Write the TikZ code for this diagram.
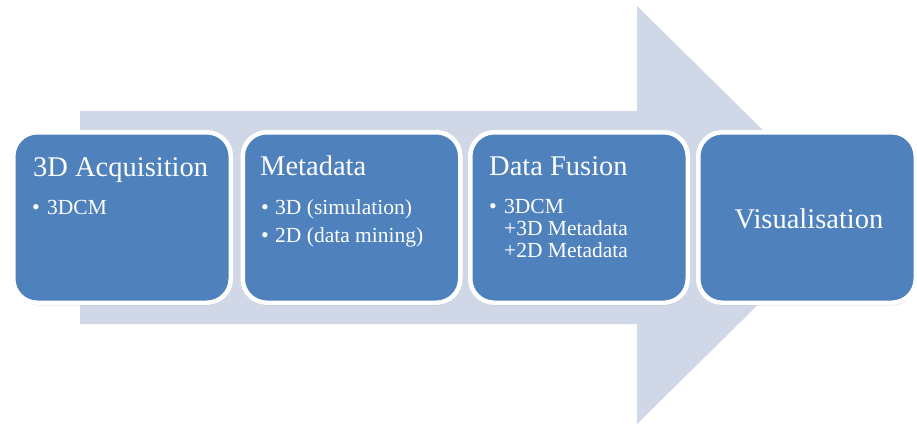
\documentclass[tikz,border=0pt]{standalone}
\usepackage{fontspec}
\setmainfont{Liberation Serif}
\usetikzlibrary{shadows}
\definecolor{boxblue}{HTML}{4F81BD}
\definecolor{arrowfill}{HTML}{D0D8E8}
\tikzset{
  stagebox/.style={draw=white, line width=4.5pt, fill=boxblue, rounded corners=24pt,
    minimum width=217.5pt, minimum height=170.5pt, inner sep=0pt,
    drop shadow={shadow xshift=0.5pt, shadow yshift=-2.5pt, opacity=0.35, fill=black!60}},
  titletext/.style={text=white, anchor=base west, inner sep=0pt, font=\fontsize{28.5}{32}\selectfont},
  itemtext/.style={text=white, anchor=base west, inner sep=0pt, font=\fontsize{21.5}{24}\selectfont},
  bullettext/.style={text=white, anchor=base west, inner sep=0pt, font=\fontsize{22}{24}\selectfont},
}
\begin{document}
\begin{tikzpicture}[x=1pt,y=-1pt]
\useasboundingbox (0,0) rectangle (917,429);
% big background arrow
\fill[arrowfill] (80,111) -- (637,111) -- (637,6) -- (849,215) -- (637,424) -- (637,324) -- (80,324) -- cycle;
% boxes
\node[stagebox] (b1) at (122,217.5) {};
\node[stagebox] (b2) at (351.5,217.5) {};
\node[stagebox] (b3) at (579,217.5) {};
\node[stagebox] (b4) at (807,217.5) {};
% box 1
\node[titletext] (t1) at (33,176) {3D Acquisition};
\node[bullettext] (p1a) at (32,214) {•};
\node[itemtext] (i1a) at (47,214) {3DCM};
% box 2
\node[titletext] (t2) at (260,175) {Metadata};
\node[bullettext] (p2a) at (261,214) {•};
\node[itemtext] (i2a) at (275,214) {3D (simulation)};
\node[bullettext] (p2b) at (261,242) {•};
\node[itemtext] (i2b) at (275,242) {2D (data mining)};
% box 3
\node[titletext] (t3) at (489,175) {Data Fusion};
\node[bullettext] (p3a) at (489,213) {•};
\node[itemtext] (i3a) at (504,213) {3DCM};
\node[itemtext] (i3b) at (504,235) {+3D Metadata};
\node[itemtext] (i3c) at (504,257) {+2D Metadata};
% box 4
\node[titletext, anchor=base] (t4) at (809,228) {Visualisation};
\end{tikzpicture}
\end{document}
